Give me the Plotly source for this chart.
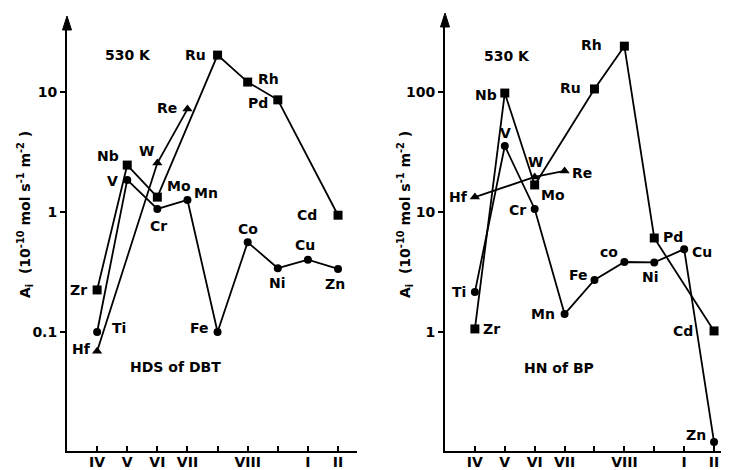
import math
import plotly.graph_objects as go

# ---- data ----
group_major_pos = [1, 2, 3, 4, 6, 8, 9]
group_major_text = ["IV", "V", "VI", "VII", "VIII", "I", "II"]
group_minor_pos = [5, 7]

# HDS of DBT (left panel)
hds_3d_x = [1, 2, 3, 4, 5, 6, 7, 8, 9]
hds_3d_y = [0.10, 1.85, 1.06, 1.26, 0.10, 0.56, 0.34, 0.40, 0.335]
hds_3d_lab = ["Ti", "V", "Cr", "Mn", "Fe", "Co", "Ni", "Cu", "Zn"]

hds_4d_x = [1, 2, 3, 5, 6, 7, 9]
hds_4d_y = [0.224, 2.46, 1.33, 20.3, 12.1, 8.6, 0.94]
hds_4d_lab = ["Zr", "Nb", "Mo", "Ru", "Rh", "Pd", "Cd"]

hds_5d_x = [1, 3, 4]
hds_5d_y = [0.069, 2.56, 7.2]
hds_5d_lab = ["Hf", "W", "Re"]

# HN of BP (right panel)
hn_3d_x = [1, 2, 3, 4, 5, 6, 7, 8, 9]
hn_3d_y = [2.15, 35.5, 10.6, 1.41, 2.71, 3.83, 3.8, 4.9, 0.121]
hn_3d_lab = ["Ti", "V", "Cr", "Mn", "Fe", "co", "Ni", "Cu", "Zn"]

hn_4d_x = [1, 2, 3, 5, 6, 7, 9]
hn_4d_y = [1.06, 98, 16.8, 106, 241, 6.07, 1.02]
hn_4d_lab = ["Zr", "Nb", "Mo", "Ru", "Rh", "Pd", "Cd"]

hn_5d_x = [1, 3, 4]
hn_5d_y = [13.3, 19.6, 22.0]
hn_5d_lab = ["Hf", "W", "Re"]

left_ticks = [0.1, 1, 10]
left_ticktext = ["0.1", "1", "10"]
right_ticks = [1, 10, 100]
right_ticktext = ["1", "10", "100"]

# ---- label offsets (pixels, style only) ----
hds_3d_off = [(22, 4), (-15, -1), (1, -17), (19, 7), (-18, 4), (0, 13), (0, -15), (-3, 15), (-3, -15)]
hds_4d_off = [(-19, 0), (-19, 9), (22, 11), (-22, 0), (21, 3), (-20, -3), (-31, 0)]
hds_5d_off = [(-16, 2), (-11, 12), (-20, 1)]
hn_3d_off = [(-16, 0), (1, 13), (-17, -1), (-22, 0), (-16, 5), (-15, 10), (-4, -15), (18, -3), (-18, 7)]
hn_4d_off = [(17, 0), (-19, -2), (18, -10), (-24, 1), (-33, 1), (19, 1), (-31, 0)]
hn_5d_off = [(-16, 0), (1, 15), (17, -2)]

FONT = "DejaVu Sans"
fnt = dict(family=FONT, size=14, color="black", weight="bold")

fig = go.Figure()

def add_series(x, y, symbol, size, xa, ya):
    fig.add_trace(go.Scatter(
        x=x, y=y, mode="lines+markers",
        line=dict(color="black", width=1.8),
        marker=dict(symbol=symbol, size=size, color="black"),
        xaxis=xa, yaxis=ya, showlegend=False, hoverinfo="skip"))

add_series(hds_3d_x, hds_3d_y, "circle", 8, "x", "y")
add_series(hds_4d_x, hds_4d_y, "square", 9, "x", "y")
add_series(hds_5d_x, hds_5d_y, "triangle-up", 9, "x", "y")
add_series(hn_3d_x, hn_3d_y, "circle", 8, "x2", "y2")
add_series(hn_4d_x, hn_4d_y, "square", 9, "x2", "y2")
add_series(hn_5d_x, hn_5d_y, "triangle-up", 9, "x2", "y2")

annotations = []

def add_labels(xs, ys, labs, offs, xr, yr):
    for x, y, t, (dx, dy) in zip(xs, ys, labs, offs):
        annotations.append(dict(x=x, y=math.log10(y), xref=xr, yref=yr,
                                text=t, showarrow=False, xshift=dx, yshift=dy,
                                xanchor="center", yanchor="middle", font=fnt))

add_labels(hds_3d_x, hds_3d_y, hds_3d_lab, hds_3d_off, "x", "y")
add_labels(hds_4d_x, hds_4d_y, hds_4d_lab, hds_4d_off, "x", "y")
add_labels(hds_5d_x, hds_5d_y, hds_5d_lab, hds_5d_off, "x", "y")
add_labels(hn_3d_x, hn_3d_y, hn_3d_lab, hn_3d_off, "x2", "y2")
add_labels(hn_4d_x, hn_4d_y, hn_4d_lab, hn_4d_off, "x2", "y2")
add_labels(hn_5d_x, hn_5d_y, hn_5d_lab, hn_5d_off, "x2", "y2")

W, H = 729, 470
OFF = 8  # page body margin
def px(x):
    return (x - OFF) / W
def py(y):
    return (H - (y - OFF)) / H

def paper_text(x, y, text, angle=0):
    return dict(x=px(x), y=py(y), xref="paper", yref="paper", text=text,
                textangle=angle, showarrow=False, xanchor="center", yanchor="middle",
                font=fnt)

# texts
annotations += [
    paper_text(128, 55, "530 K"),
    paper_text(507, 56, "530 K"),
    paper_text(175, 367, "HDS of DBT"),
    paper_text(559, 368, "HN of BP"),
]
ytitle = "A<sub>i</sub>  (10<sup>-10</sup> mol s<sup>-1</sup> m<sup>-2</sup> )"
annotations += [
    paper_text(25, 215, ytitle, -90),
    paper_text(405, 215, ytitle, -90),
]

# arrowheads at the top of the y axes (decorative shapes, paper coords)
shapes = []
for ax_x, ax_top in [(67, 16), (445, 13)]:
    cx = px(ax_x)
    ty = py(ax_top)
    hw = 4.5 / W
    hh = 14.0 / H
    shapes.append(dict(type="path", xref="paper", yref="paper",
                       path=f"M {cx - hw} {ty - hh} L {cx} {ty} L {cx + hw} {ty - hh} Z",
                       fillcolor="black", line=dict(color="black", width=1)))

xcommon = dict(tickmode="array", tickvals=group_major_pos, ticktext=group_major_text,
               ticks="inside", ticklen=5, tickwidth=1.5, tickcolor="black",
               minor=dict(tickmode="array", tickvals=group_minor_pos, ticks="inside",
                          ticklen=5, tickwidth=1.5, tickcolor="black", showgrid=False),
               showline=True, linecolor="black", linewidth=2, showgrid=False,
               zeroline=False, tickfont=fnt, ticklabelstandoff=-3)
ycommon = dict(type="log", tickmode="array", ticks="outside", ticklen=5, tickwidth=1.5,
               tickcolor="black", showline=True, linecolor="black", linewidth=2,
               showgrid=False, zeroline=False, tickfont=fnt)

fig.update_layout(
    width=W, height=H, margin=dict(l=0, r=0, t=0, b=0),
    paper_bgcolor="white", plot_bgcolor="white",
    xaxis=dict(domain=[px(67), px(357)], range=[0, 9.63], anchor="y", **xcommon),
    yaxis=dict(domain=[py(451), py(22)], range=[-1.992, math.log10(10) + (92 - 22) / 120], anchor="x",
               tickvals=left_ticks, ticktext=left_ticktext, **ycommon),
    xaxis2=dict(domain=[px(445), px(729)], range=[0, 9.5], anchor="y2", **xcommon),
    yaxis2=dict(domain=[py(451), py(19)], range=[-0.992, 2 + (92 - 19) / 120], anchor="x2",
                tickvals=right_ticks, ticktext=right_ticktext, **ycommon),
    annotations=annotations,
    shapes=shapes,
)

fig.write_html("out.html")
